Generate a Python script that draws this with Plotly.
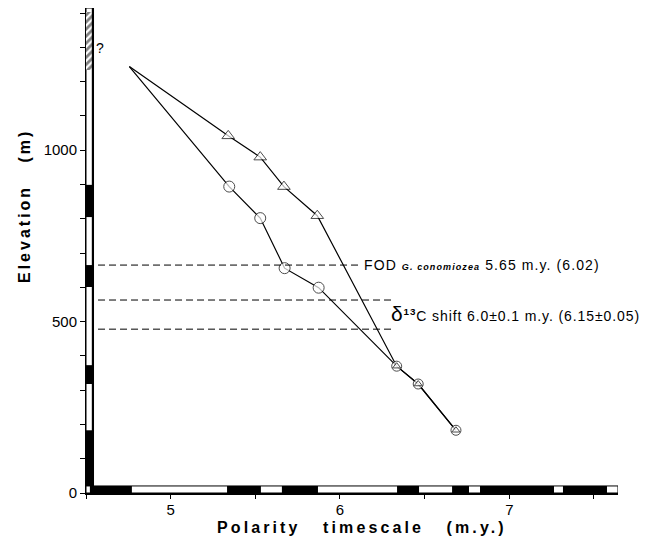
import plotly.graph_objects as go

# ---------------- data ----------------
apex_age = 4.756
apex_elev = 1244

tri_age = [5.340, 5.529, 5.669, 5.866]
tri_elev = [1042, 980, 894, 809]

circ_age = [5.346, 5.529, 5.673, 5.874]
circ_elev = [894, 802, 656, 599]

shared_age = [6.335, 6.462, 6.685]
shared_elev = [370, 318, 183]

# datum levels (elevation, m) and their right ends (m.y.)
fod_elev = 665
fod_end = 6.118
c13_elevs = [563, 478]
c13_end = 6.315
datum_start = 4.571

# magnetic polarity: stratigraphic column (elevation) and timescale (m.y.)
col_normal_bottom = [0, 318, 601, 805]
col_normal_top = [183, 373, 665, 899]
col_hatch = [1235, 1404]

bar_normal_start = [4.523, 5.333, 5.657, 6.337, 6.662, 6.827, 7.317]
bar_normal_end = [4.771, 5.533, 5.870, 6.467, 6.762, 7.264, 7.577]

x_tickvals = [4.5, 5, 5.5, 6, 6.5, 7, 7.5]
x_ticktext = ["", "5", "", "6", "", "7", ""]
y_tickvals = list(range(0, 1500, 100))
y_ticktext = ["0", "", "", "", "", "500", "", "", "", "", "1000", "", "", "", ""]

X_RANGE = [4.5, 7.642]
Y_RANGE = [0, 1415]

FONT = "Liberation Sans, Arial, sans-serif"

fig = go.Figure()

# hatched (uncertain) interval at the top of the column
fig.add_trace(go.Bar(
    x=[X_RANGE[0] + 0.0205], y=[col_hatch[1] - col_hatch[0]], base=[col_hatch[0]],
    width=[0.041],
    marker=dict(color="white", line=dict(width=0),
                pattern=dict(shape="/", fgcolor="black", bgcolor="white", size=5, solidity=0.55)),
    showlegend=False, hoverinfo="skip"))

# path lines
fig.add_trace(go.Scatter(
    x=[apex_age] + tri_age + shared_age, y=[apex_elev] + tri_elev + shared_elev,
    mode="lines", line=dict(color="black", width=1.2), showlegend=False, hoverinfo="skip"))
fig.add_trace(go.Scatter(
    x=[apex_age] + circ_age + shared_age, y=[apex_elev] + circ_elev + shared_elev,
    mode="lines", line=dict(color="black", width=1.2), showlegend=False, hoverinfo="skip"))

# circles
fig.add_trace(go.Scatter(
    x=circ_age + shared_age, y=circ_elev + shared_elev, mode="markers",
    marker=dict(symbol="circle", size=[11] * len(circ_age) + [10] * len(shared_age),
                color="white", line=dict(color="black", width=1)),
    showlegend=False, hoverinfo="skip"))
# triangles
fig.add_trace(go.Scatter(
    x=tri_age + shared_age, y=tri_elev + shared_elev, mode="markers",
    marker=dict(symbol="triangle-up", size=[11] * len(tri_age) + [7] * len(shared_age),
                color="white", line=dict(color="black", width=1)),
    showlegend=False, hoverinfo="skip"))

# datum dashed lines
fig.add_trace(go.Scatter(
    x=[datum_start, fod_end], y=[fod_elev, fod_elev], mode="lines",
    line=dict(color="black", width=1, dash="7px,4px"), showlegend=False, hoverinfo="skip"))
for e in c13_elevs:
    fig.add_trace(go.Scatter(
        x=[datum_start, c13_end], y=[e, e], mode="lines",
        line=dict(color="black", width=1, dash="7px,4px"), showlegend=False, hoverinfo="skip"))

shapes = []
COL_W = 0.013   # column width as fraction of x domain
BAR_H = 0.0145  # bar height as fraction of y domain
# polarity column
shapes.append(dict(type="rect", xref="x domain", yref="y", x0=0, x1=COL_W, y0=0, y1=Y_RANGE[1],
                   fillcolor="white", line=dict(color="black", width=1), layer="below"))
for b, t in zip(col_normal_bottom, col_normal_top):
    shapes.append(dict(type="rect", xref="x domain", yref="y", x0=0, x1=COL_W, y0=b, y1=t,
                       fillcolor="black", line=dict(width=0), layer="above"))
shapes.append(dict(type="line", xref="x domain", yref="y", x0=COL_W, x1=COL_W, y0=0, y1=Y_RANGE[1],
                   line=dict(color="black", width=2.2), layer="above"))
# polarity timescale bar
shapes.append(dict(type="rect", xref="x", yref="y domain", x0=X_RANGE[0], x1=X_RANGE[1], y0=0, y1=BAR_H,
                   fillcolor="white", line=dict(color="black", width=1), layer="above"))
for s, e in zip(bar_normal_start, bar_normal_end):
    shapes.append(dict(type="rect", xref="x", yref="y domain", x0=s, x1=e, y0=0, y1=BAR_H,
                       fillcolor="black", line=dict(width=0), layer="above"))

# page is offset by the 8px body margin: plot area spans page x 86..618, y 8..493
W, H = 658, 538
ML, MT = 86 - 8, 8 - 8
PLOT_W = 618 - 86
PLOT_H = 493 - 8
MR = W - ML - PLOT_W
MB = H - MT - PLOT_H


def px_x(page_x):
    return (page_x - 86) / PLOT_W


def px_y(page_y):
    return (493 - page_y) / PLOT_H


annotations = [
    dict(text='<span style="letter-spacing:1.1px">FOD <i><b><span style="font-size:9px">G. conomiozea</span></b></i> 5.65 m.y. (6.02)</span>',
         x=6.128, y=fod_elev, xref="x", yref="y", xanchor="left", yanchor="middle",
         showarrow=False, font=dict(size=14, color="black", family=FONT)),
    dict(text='<span style="letter-spacing:0.9px"><span style="font-size:21px">δ</span><sup><b>13</b></sup>C shift 6.0±0.1 m.y. (6.15±0.05)</span>',
         x=6.29, y=524, xref="x", yref="y", xanchor="left", yanchor="middle",
         showarrow=False, font=dict(size=14, color="black", family=FONT)),
    dict(text="?", x=4.585, y=1297, xref="x", yref="y", xanchor="center", yanchor="middle",
         showarrow=False, font=dict(size=14, color="black", family=FONT)),
    dict(text='<span style="letter-spacing:3px">Elevation\u00a0\u00a0\u00a0(m)</span>',
         x=px_x(24), y=px_y(206), xref="paper", yref="paper", xanchor="center", yanchor="middle",
         textangle=-90, showarrow=False, font=dict(size=16, color="black", family=FONT, weight="bold")),
    dict(text='<span style="letter-spacing:3.1px">Polarity\u00a0\u00a0\u00a0timescale\u00a0\u00a0\u00a0(m.y.)</span>',
         x=px_x(362), y=px_y(527), xref="paper", yref="paper", xanchor="center", yanchor="middle",
         showarrow=False, font=dict(size=16, color="black", family=FONT, weight="bold")),
]

fig.update_layout(
    width=W, height=H, autosize=False,
    margin=dict(l=ML, r=MR, t=MT, b=MB, pad=0),
    paper_bgcolor="white", plot_bgcolor="white",
    shapes=shapes, annotations=annotations,
    font=dict(family=FONT, color="black"),
    bargap=0,
)
fig.update_xaxes(range=X_RANGE, tickvals=x_tickvals, ticktext=x_ticktext, ticks="outside",
                 ticklen=4, tickwidth=1.2, tickcolor="black", showline=True, linewidth=2,
                 linecolor="black", showgrid=False, zeroline=False, ticklabelstandoff=-2,
                 tickfont=dict(size=15, color="black", family=FONT))
fig.update_yaxes(range=Y_RANGE, tickvals=y_tickvals, ticktext=y_ticktext, ticks="outside",
                 ticklen=5, tickwidth=1.2, tickcolor="black", showline=True, linewidth=1,
                 linecolor="black", showgrid=False, zeroline=False,
                 tickfont=dict(size=15, color="black", family=FONT))

fig.write_html("out.html")
